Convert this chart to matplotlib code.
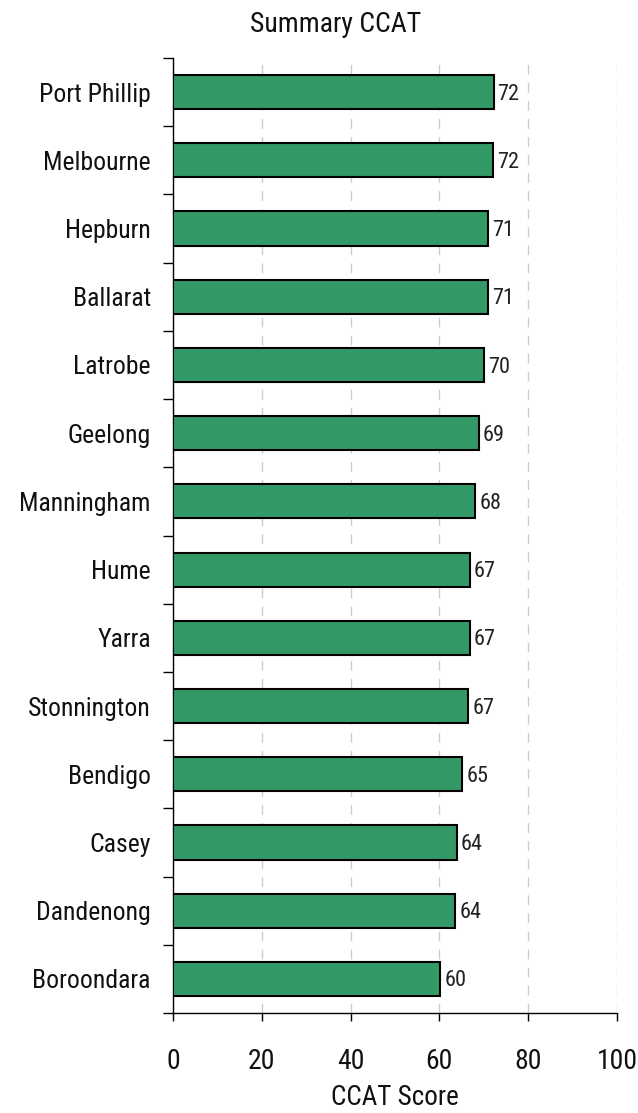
import matplotlib
matplotlib.use("Agg")
import matplotlib.pyplot as plt
from matplotlib import font_manager
import numpy as np

categories = ["Port Phillip", "Melbourne", "Hepburn", "Ballarat", "Latrobe", "Geelong",
              "Manningham", "Hume", "Yarra", "Stonnington", "Bendigo", "Casey",
              "Dandenong", "Boroondara"]
scores = [72.2, 72.1, 71.0, 71.0, 70.1, 68.9, 68.1, 66.8, 66.8, 66.5, 65.2, 63.9, 63.6, 60.2]
labels = ["72", "72", "71", "71", "70", "69", "68", "67", "67", "67", "65", "64", "64", "60"]
xticks = [0, 20, 40, 60, 80, 100]

names = {f.name for f in font_manager.fontManager.ttflist}
prefs = ["Liberation Sans Narrow", "Arial Narrow", "Nimbus Sans Narrow", "Roboto Condensed",
         "PT Sans Narrow", "Archivo Narrow", "Pragati Narrow", "Liberation Sans"]
main = next(p for p in prefs if p in names)
plt.rcParams["font.family"] = [main, "DejaVu Sans"]

W, H = 638, 1113
fig = plt.figure(figsize=(W / 100, H / 100), dpi=100)
ax = fig.add_axes([173 / W, 100 / H, 444 / W, 955 / H])

y = np.arange(len(categories))
ax.barh(y, scores, height=0.5, color="#339966", edgecolor="black", linewidth=1.5, zorder=3)
for yi, s, lab in zip(y, scores, labels):
    ax.text(s + 0.9, yi + 0.03, lab, va="center", ha="left", fontsize=16, color="#222222")

ax.set_xlim(0, 100)
ax.set_ylim(len(categories) - 0.5, -0.5)
ax.set_yticks(y)
ax.set_yticklabels(categories, fontsize=18.5, color="#111111")
ax.tick_params(axis="y", length=0, pad=16)
ax.set_yticks(np.arange(-0.5, len(categories), 1.0), minor=True)
ax.tick_params(axis="y", which="minor", length=7, width=1, color="black")
ax.set_xticks(xticks)
ax.set_xticklabels([str(t) for t in xticks], fontsize=20, color="#111111")
ax.tick_params(axis="x", length=6, width=1, pad=19)

ax.grid(axis="x", linestyle=(0, (7, 6)), color="#cccccc", linewidth=1, zorder=0)
for sp in ["top", "right"]:
    ax.spines[sp].set_visible(False)
ax.spines["left"].set_linewidth(1)
ax.spines["bottom"].set_linewidth(1)

fig.text(395 / W, 1 - 1111 / H, "CCAT Score", ha="center", va="bottom", fontsize=19.5, color="#111111")
fig.text(336 / W, 1 - 32 / H, "Summary CCAT", ha="center", va="baseline", fontsize=20, color="#111111")

fig.savefig("out.png", dpi=100)
